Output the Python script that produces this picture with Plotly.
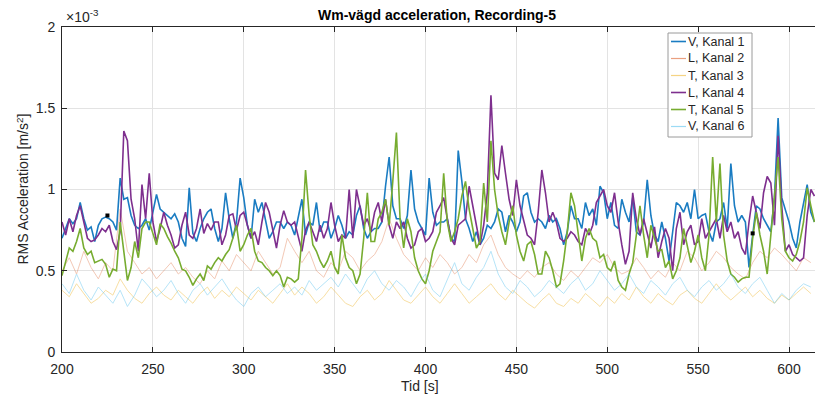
import numpy as np
import plotly.graph_objects as go

# Time axes [s]
t_main = np.arange(200, 616, 2)     # 200..614, step 2 s
t_faint = np.arange(200, 613, 4)    # 200..612, step 4 s

# RMS acceleration values, in units of 1e-3 m/s^2
kanal1_V = [
    0.70, 0.76, 0.82, 0.79, 0.82, 0.92, 0.82, 0.75, 0.77, 0.68,
    0.78, 0.82, 0.83, 0.82, 0.80, 0.75, 1.07, 0.94, 0.95, 0.84,
    0.78, 0.76, 0.78, 0.82, 0.75, 0.86, 0.97, 0.88, 0.86, 0.84,
    0.82, 0.85, 0.80, 0.70, 0.65, 1.01, 0.73, 0.68, 0.76, 0.82,
    0.86, 0.88, 0.76, 0.68, 0.76, 0.98, 0.82, 0.70, 0.80, 1.07,
    0.95, 0.78, 0.70,
    0.94, 0.86, 0.92, 0.80, 0.70, 0.74, 0.80, 0.80, 0.76, 0.80,
    0.78, 0.72, 0.82, 0.94, 0.72, 0.80, 0.78, 0.92, 0.74, 0.80,
    0.80, 0.70, 0.76, 0.84, 0.78, 0.70, 0.74, 0.72, 0.84, 0.90,
    0.76, 0.70, 0.74, 0.76, 0.76, 0.80, 1.02, 1.20, 0.90, 0.82,
    0.82, 0.76, 0.84, 1.12, 0.88, 0.80, 0.76, 0.72, 1.07, 0.86,
    0.78, 0.80,
    0.80, 0.82, 0.70, 0.68, 1.24, 1.05, 0.82, 0.76, 0.68, 0.74,
    0.66, 0.70, 0.78, 0.76, 0.80, 0.88, 0.86, 0.74, 0.84, 0.80,
    0.74, 0.80, 0.96, 0.98, 0.86, 0.80, 0.82, 0.80, 0.76, 0.84,
    0.80, 0.82, 0.76, 0.66, 0.74, 0.90, 0.82, 0.82, 0.76, 0.92,
    0.84, 0.88, 0.78, 1.02, 0.98, 0.82, 0.92, 0.78, 0.76, 0.94,
    0.86, 0.80,
    0.95, 0.74, 0.72, 0.80, 1.06, 0.84, 0.72, 0.68, 0.80, 0.70,
    0.56, 0.76, 0.92, 0.90, 0.86, 0.92, 0.82, 1.00, 0.82, 0.84,
    0.85, 0.74, 0.68, 0.80, 0.82, 0.92, 0.76, 1.16, 0.90, 0.80,
    0.84, 0.80, 0.52, 0.72, 0.90, 0.88, 0.82, 0.78, 0.74, 0.95,
    1.44, 0.95, 0.88, 0.80, 0.70, 0.64, 0.80, 0.92, 1.03, 0.86,
    0.80,
]

kanal4_L = [
    0.80, 0.72, 0.82, 0.74, 0.84, 0.90, 0.80, 0.70, 0.68, 0.69,
    0.72, 0.76, 0.74, 0.78, 0.68, 0.63, 0.74, 1.36, 1.30, 0.94,
    0.82, 0.62, 1.03, 0.82, 1.10, 0.80, 0.68, 0.76, 0.86, 0.78,
    0.72, 0.64, 0.66, 0.78, 0.86, 0.72, 0.70, 0.76, 0.88, 0.73,
    0.79, 0.75, 0.80, 0.80, 0.66, 0.72, 0.84, 0.85, 0.75, 0.84,
    0.86, 0.78, 0.70,
    0.74, 0.66, 0.80, 0.92, 0.86, 0.76, 0.64, 0.78, 0.87, 0.80,
    0.78, 0.80, 0.70, 0.62, 0.75, 0.80, 0.74, 0.68, 0.78, 0.70,
    0.76, 0.92, 0.78, 0.68, 0.72, 0.70, 1.00, 0.70, 1.00, 0.88,
    0.78, 0.82, 0.74, 0.86, 0.92, 0.80, 0.94, 0.78, 0.70, 0.80,
    0.76, 0.80, 0.70, 0.64, 0.66, 0.74, 0.76, 0.68, 0.70, 0.74,
    0.86, 0.90,
    0.95, 0.82, 0.70, 0.66, 0.78, 0.80, 0.82, 1.02, 0.90, 0.76,
    0.66, 0.78, 0.98, 1.58, 1.10, 1.06, 1.27, 1.10, 0.94, 0.84,
    1.06, 0.90, 0.80, 0.72, 0.70, 0.66, 0.86, 1.12, 0.98, 0.80,
    0.86, 0.80, 0.70, 0.68, 0.70, 0.74, 0.72, 0.68, 0.66, 0.76,
    0.72, 0.78, 0.92, 0.96, 1.00, 0.90, 0.86, 0.98, 0.80, 0.66,
    0.54, 0.62,
    0.98, 0.82, 0.72, 0.82, 0.72, 0.64, 0.77, 0.58, 0.68, 0.76,
    0.70, 0.50, 0.76, 0.86, 0.66, 0.74, 0.78, 0.66, 0.68, 0.82,
    0.70, 0.74, 0.78, 0.82, 0.70, 0.84, 0.74, 0.80, 0.70, 0.74,
    0.64, 0.60, 0.80, 0.96, 0.86, 0.76, 0.98, 1.08, 1.04, 0.78,
    1.33, 0.90, 0.62, 0.66, 0.60, 0.58, 0.56, 0.58, 0.84, 1.00,
    0.96,
]

kanal5_T = [
    0.47, 0.55, 0.64, 0.62, 0.68, 0.76, 0.64, 0.60, 0.62, 0.55,
    0.56, 0.57, 0.54, 0.46, 0.51, 0.50, 0.80, 0.60, 0.44, 0.52,
    0.68, 0.58, 0.76, 0.80, 0.80, 0.73, 0.66, 0.79, 0.76, 0.71,
    0.67, 0.62, 0.58, 0.51, 0.50, 0.46, 0.41, 0.45, 0.48, 0.44,
    0.53, 0.51, 0.55, 0.58, 0.56, 0.60, 0.63, 0.70, 0.78, 0.62,
    0.66, 0.72, 0.76,
    0.62, 0.56, 0.55, 0.52, 0.50, 0.47, 0.50, 0.47, 0.40, 0.46,
    0.45, 0.43, 0.45, 0.70, 1.12, 0.84, 0.66, 0.62, 0.56, 0.52,
    0.56, 0.62, 0.52, 0.48, 0.72, 0.58, 0.52, 0.50, 0.42, 0.48,
    0.70, 0.98, 0.68, 0.68, 0.82, 0.86, 0.94, 0.78, 1.05, 1.35,
    0.82, 0.64, 0.82, 0.74, 0.58, 0.50, 0.45, 0.42, 0.50, 0.62,
    0.68, 0.74,
    1.10, 0.80, 0.68, 0.74, 0.82, 0.96, 1.05, 0.88, 0.76, 0.64,
    0.68, 1.04, 0.80, 1.30, 1.00, 0.84, 0.74, 0.66, 0.80, 0.90,
    0.72, 0.62, 0.56, 0.66, 0.68, 0.60, 0.48, 0.48, 0.62, 0.58,
    0.50, 0.40, 0.42, 0.56, 0.74, 0.98, 0.90, 0.72, 0.56, 0.70,
    0.76, 0.70, 0.68, 0.58, 0.60, 0.52, 0.50, 0.56, 0.44, 0.40,
    0.38, 0.48,
    0.55, 0.72, 0.90, 0.72, 0.58, 0.78, 0.70, 0.62, 0.63, 0.52,
    0.56, 0.45, 0.50, 0.58, 0.76, 0.66, 0.55, 0.62, 0.72, 0.58,
    0.50, 0.72, 1.20, 0.80, 1.16, 0.72, 0.56, 0.48, 0.46, 0.43,
    0.45, 0.46, 0.46, 0.70, 0.86, 0.72, 0.62, 0.48, 0.72, 0.96,
    1.20, 0.82, 0.62, 0.58, 0.56, 0.60, 0.68, 0.80, 1.01, 0.90,
    0.80,
]

kanal2_L = [
    0.50, 0.58, 0.48, 0.62, 0.52, 0.45, 0.55, 0.50, 0.88, 0.62,
    0.55, 0.48, 0.52, 0.45, 0.50, 0.55, 0.48, 0.52, 0.46, 0.42,
    0.50, 0.45, 0.56, 0.50, 0.60, 0.55, 0.50, 0.62, 0.55, 0.48,
    0.52, 0.70, 0.62, 0.55, 0.62, 0.50, 0.46, 0.55, 0.50, 0.62,
    0.58, 0.50, 0.56, 0.60, 0.68, 0.82, 0.70, 0.60, 0.55, 0.50,
    0.58, 0.52, 0.60, 0.55, 0.48, 0.52, 0.60, 0.55, 0.66, 0.72,
    0.60, 0.52, 0.48, 0.45, 0.50, 0.46, 0.52, 0.55, 0.48, 0.44,
    0.50, 0.46, 0.52, 0.58, 0.55, 0.60, 0.52, 0.48, 0.50, 0.58,
    0.52, 0.45, 0.50, 0.46, 0.55, 0.50, 0.62, 0.58, 0.50, 0.55,
    0.62, 0.58, 0.52, 0.48, 0.45, 0.55, 0.62, 0.58, 0.64, 0.60,
    0.55, 0.50, 0.58, 0.55,
]

kanal3_T = [
    0.38, 0.34, 0.42, 0.36, 0.30, 0.33, 0.38, 0.35, 0.45, 0.38,
    0.33, 0.30, 0.36, 0.40, 0.35, 0.32, 0.38, 0.34, 0.30, 0.36,
    0.40, 0.33, 0.38, 0.34, 0.40, 0.36, 0.32, 0.38, 0.34, 0.30,
    0.36, 0.42, 0.35, 0.40, 0.36, 0.30, 0.34, 0.40, 0.35, 0.30,
    0.28, 0.34, 0.38, 0.32, 0.36, 0.44, 0.38, 0.32, 0.30, 0.35,
    0.40, 0.34, 0.30, 0.36, 0.42, 0.36, 0.30, 0.34, 0.38, 0.42,
    0.36, 0.32, 0.38, 0.34, 0.30, 0.27, 0.32, 0.36, 0.30, 0.28,
    0.33, 0.30, 0.36, 0.32, 0.28, 0.34, 0.30, 0.36, 0.32, 0.40,
    0.34, 0.30, 0.36, 0.32, 0.29, 0.35, 0.38, 0.33, 0.30, 0.36,
    0.42, 0.36, 0.32, 0.36, 0.40, 0.34, 0.38, 0.33, 0.30, 0.35,
    0.32, 0.36, 0.40, 0.36,
]

kanal6_V = [
    0.42, 0.36, 0.48, 0.38, 0.32, 0.40, 0.35, 0.30, 0.38, 0.28,
    0.35, 0.45, 0.40, 0.34, 0.38, 0.44, 0.36, 0.30, 0.38, 0.42,
    0.35, 0.40, 0.45, 0.38, 0.32, 0.28, 0.36, 0.40, 0.34, 0.38,
    0.42, 0.36, 0.40, 0.35, 0.44, 0.38, 0.42, 0.46, 0.40, 0.48,
    0.42, 0.36, 0.45, 0.50, 0.42, 0.38, 0.44, 0.40, 0.34, 0.42,
    0.48, 0.38, 0.34, 0.45, 0.55, 0.42, 0.38, 0.46, 0.52, 0.62,
    0.48, 0.40, 0.36, 0.44, 0.40, 0.34, 0.38, 0.44, 0.40, 0.36,
    0.42, 0.46, 0.38, 0.42, 0.50, 0.44, 0.38, 0.42, 0.48, 0.40,
    0.36, 0.44, 0.40, 0.35, 0.42, 0.46, 0.38, 0.34, 0.40, 0.44,
    0.38, 0.42, 0.48, 0.40, 0.36, 0.42, 0.46, 0.38, 0.30, 0.36,
    0.32, 0.38, 0.42, 0.40,
]

# Data-tip markers visible in the figure
tip_t = [225, 580]
tip_v = [0.84, 0.73]

x_ticks = [200, 250, 300, 350, 400, 450, 500, 550, 600]
y_ticks = [0, 0.5, 1, 1.5, 2]
y_tick_labels = ["0", "0.5", "1", "1.5", "2"]

FONT = "Liberation Sans, Arial, sans-serif"
TXT = "#262626"

series = [
    ("V, Kanal 1", t_main, kanal1_V, "#1a7cc2", 1.6, 1.0),
    ("L, Kanal 2", t_faint, kanal2_L, "#D95319", 0.9, 0.35),
    ("T, Kanal 3", t_faint, kanal3_T, "#EDB120", 0.9, 0.45),
    ("L, Kanal 4", t_main, kanal4_L, "#7E2F8E", 1.6, 1.0),
    ("T, Kanal 5", t_main, kanal5_T, "#77AC30", 1.6, 1.0),
    ("V, Kanal 6", t_faint, kanal6_V, "#4DBEEE", 0.9, 0.45),
]

fig = go.Figure()
for name, t, v, col, w, op in series:
    fig.add_trace(go.Scatter(x=t, y=v, mode="lines", name=name,
                             line=dict(color=col, width=w), opacity=op,
                             showlegend=False))

fig.add_trace(go.Scatter(x=tip_t, y=tip_v, mode="markers", showlegend=False,
                         marker=dict(color="black", size=4, symbol="square")))

# Plot-area geometry in pixels (for the hand-drawn MATLAB-style legend)
L, T, R, B = 62, 27, 815, 352
W, H = R - L, B - T


def px(xp):
    return (xp - L) / W


def py(yp):
    return (B - yp) / H


fig.update_layout(
    width=815, height=396,
    margin=dict(l=L, r=815 - R, t=T, b=396 - B),
    paper_bgcolor="white", plot_bgcolor="white",
    font=dict(family=FONT, color=TXT, size=14),
    showlegend=False,
)

fig.update_xaxes(range=[200, 614.3], tickvals=x_ticks,
                 showgrid=True, gridcolor="#e3e3e3", gridwidth=1,
                 showline=True, linecolor=TXT, linewidth=1, mirror="ticks",
                 ticks="inside", ticklen=5, tickcolor=TXT,
                 ticklabelstandoff=4,
                 tickfont=dict(size=14, color=TXT), zeroline=False)
fig.update_yaxes(range=[0, 2], tickvals=y_ticks, ticktext=y_tick_labels,
                 showgrid=True, gridcolor="#e3e3e3", gridwidth=1,
                 showline=True, linecolor=TXT, linewidth=1,
                 ticks="inside", ticklen=5, tickcolor=TXT,
                 ticklabelstandoff=3,
                 tickfont=dict(size=14, color=TXT), zeroline=False)

# Legend box
fig.add_shape(type="rect", xref="paper", yref="paper",
              x0=px(668), x1=px(752), y0=py(137), y1=py(33),
              fillcolor="white", line=dict(color="#9a9a9a", width=1),
              layer="above")
row_y = [41.5, 58.5, 75.5, 92.5, 109.5, 126.5]
for (name, _t, _v, col, w, op), ry in zip(series, row_y):
    fig.add_shape(type="line", xref="paper", yref="paper",
                  x0=px(671), x1=px(686), y0=py(ry), y1=py(ry),
                  line=dict(color=col, width=max(w, 1.2)), opacity=max(op, 0.55),
                  layer="above")
    fig.add_annotation(text=name, xref="paper", yref="paper",
                       x=px(686), y=py(ry), xanchor="left", yanchor="middle",
                       showarrow=False,
                       font=dict(family=FONT, size=12.5, color=TXT))

fig.add_annotation(text="<b>Wm-vägd acceleration, Recording-5</b>",
                   xref="paper", yref="paper", x=0.4975, y=1.037,
                   xanchor="center", yanchor="middle", showarrow=False,
                   font=dict(family=FONT, size=14, color="#000000"))
fig.add_annotation(text="RMS Acceleration [m/s<sup>2</sup>]",
                   xref="paper", yref="paper", x=-0.053, y=0.5,
                   textangle=-90, xanchor="center", yanchor="middle",
                   showarrow=False, font=dict(family=FONT, size=14, color=TXT))
fig.add_annotation(text="Tid [s]", xref="paper", yref="paper",
                   x=0.475, y=(B - 386) / H, xanchor="center", yanchor="middle",
                   showarrow=False, font=dict(family=FONT, size=14, color=TXT))
fig.add_annotation(text="×10<sup>-3</sup>", xref="paper", yref="paper",
                   x=0.002, y=1.0, xanchor="left", yanchor="bottom",
                   showarrow=False, font=dict(family=FONT, size=14, color=TXT))

fig.write_html("out.html")
